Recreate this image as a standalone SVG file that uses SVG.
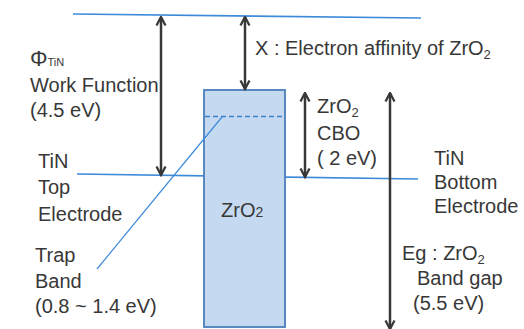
<svg xmlns="http://www.w3.org/2000/svg" width="524" height="329" viewBox="0 0 524 329">
  <style>
    .t { font-family: "Liberation Sans", Arial, sans-serif; font-size: 20px; fill: #383838; }
    .blue { stroke: #3d8ad9; stroke-width: 1.6; fill: none; }
    .arr { stroke: #383838; stroke-width: 2.5; fill: none; marker-start: url(#ah); marker-end: url(#ah); }
    .sub { font-size: 13px; }
  </style>
  <defs>
    <marker id="ah" viewBox="0 0 12 12" refX="10.5" refY="6" markerWidth="12" markerHeight="12" markerUnits="userSpaceOnUse" orient="auto-start-reverse">
      <path d="M2,1.5 L10.5,6 L2,10.5" fill="none" stroke="#383838" stroke-width="2.3"/>
    </marker>
  </defs>
  <rect width="524" height="329" fill="#ffffff"/>

  <g id="vacuum-level">
    <line class="blue" x1="73" y1="14" x2="421" y2="18"/>
  </g>

  <g id="electrode-fermi-level">
    <line class="blue" x1="77" y1="174" x2="418" y2="179"/>
  </g>

  <g id="zro2-box">
    <rect x="204" y="90" width="81" height="237" fill="#c5d9f1" stroke="#4a7ebb" stroke-width="1.8"/>
    <line x1="205" y1="116.5" x2="284" y2="116.5" stroke="#3d7fcc" stroke-width="1.6" stroke-dasharray="5,3"/>
    <text class="t" x="221" y="217">ZrO<tspan font-size="14px">2</tspan></text>
  </g>

  <g id="trap-band">
    <line x1="222" y1="117" x2="97" y2="269" stroke="#3d8ad9" stroke-width="1.2"/>
    <text class="t" x="35" y="262">Trap</text>
    <text class="t" x="35" y="288">Band</text>
    <text class="t" x="35" y="313">(0.8 ~ 1.4 eV)</text>
  </g>

  <g id="connectors">
    <line class="arr" x1="161" y1="17" x2="161" y2="175"/>
    <line class="arr" x1="245" y1="17" x2="245" y2="89"/>
    <line class="arr" x1="305" y1="93" x2="305" y2="177"/>
    <line class="arr" x1="390" y1="93" x2="390" y2="329"/>
  </g>

  <g id="label-work-function">
    <text class="t" x="30" y="66"><tspan font-size="22px">Φ</tspan><tspan font-size="11px">TiN</tspan></text>
    <text class="t" x="30" y="92">Work Function</text>
    <text class="t" x="30" y="117">(4.5 eV)</text>
  </g>

  <g id="label-electron-affinity">
    <text class="t" x="255" y="55">X : Electron affinity of ZrO<tspan class="sub" dy="4">2</tspan></text>
  </g>

  <g id="label-cbo">
    <text class="t" x="317" y="113">ZrO<tspan class="sub" dy="4">2</tspan></text>
    <text class="t" x="317" y="140">CBO</text>
    <text class="t" x="317" y="165">( 2 eV)</text>
  </g>

  <g id="label-top-electrode">
    <text class="t" x="38" y="168">TiN</text>
    <text class="t" x="38" y="194">Top</text>
    <text class="t" x="38" y="221">Electrode</text>
  </g>

  <g id="label-bottom-electrode">
    <text class="t" x="434" y="165">TiN</text>
    <text class="t" x="434" y="189">Bottom</text>
    <text class="t" x="434" y="213">Electrode</text>
  </g>

  <g id="label-band-gap">
    <text class="t" x="402" y="260">Eg : ZrO<tspan class="sub" dy="4">2</tspan></text>
    <text class="t" x="417" y="285">Band gap</text>
    <text class="t" x="413" y="310">(5.5 eV)</text>
  </g>
</svg>
